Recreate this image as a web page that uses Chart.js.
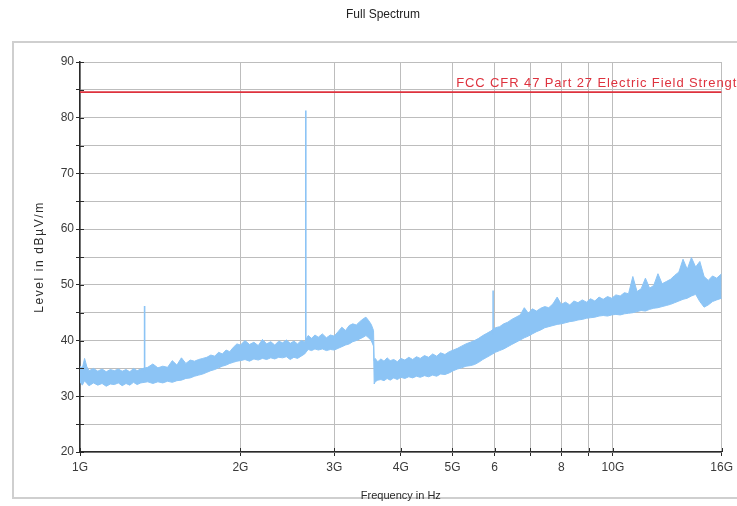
<!DOCTYPE html>
<html><head><meta charset="utf-8">
<script src="https://cdn.jsdelivr.net/npm/chart.js@4.4.0/dist/chart.umd.min.js"></script>
<style>html,body{margin:0;padding:0;background:#fff;overflow:hidden}</style>
</head><body>
<canvas id="c" width="737" height="506"></canvas>
<script>
// ---- data ----
const freqGHz = [
  1.00, 1.01, 1.02, 1.03, 1.04, 1.06, 1.08, 1.10, 1.12, 1.14,
  1.16, 1.18, 1.20, 1.22, 1.24, 1.26, 1.28, 1.30, 1.34, 1.37,
  1.40, 1.43, 1.46, 1.49, 1.52, 1.55, 1.58, 1.61, 1.64, 1.67,
  1.70, 1.73, 1.76, 1.79, 1.82, 1.85, 1.88, 1.91, 1.94, 1.97,
  2.00, 2.04, 2.08, 2.12, 2.16, 2.20, 2.24, 2.28, 2.32, 2.36,
  2.40, 2.44, 2.48, 2.52, 2.56, 2.60, 2.64, 2.68, 2.72, 2.76,
  2.80, 2.85, 2.90, 2.95, 3.00, 3.05, 3.10, 3.15, 3.20, 3.25,
  3.30, 3.35, 3.40, 3.44, 3.48, 3.52, 3.555, 3.565, 3.58, 3.62,
  3.67, 3.72, 3.77, 3.82, 3.88, 3.94, 4.00, 4.07, 4.14, 4.21,
  4.28, 4.35, 4.43, 4.51, 4.59, 4.67, 4.75, 4.84, 4.93, 5.02,
  5.11, 5.20, 5.30, 5.40, 5.50, 5.60, 5.70, 5.80, 5.90, 6.02,
  6.13, 6.24, 6.35, 6.46, 6.58, 6.70, 6.82, 6.94, 7.06, 7.19,
  7.32, 7.45, 7.58, 7.72, 7.86, 8.00, 8.15, 8.30, 8.45, 8.60,
  8.76, 8.92, 9.08, 9.25, 9.42, 9.59, 9.77, 9.95, 10.13, 10.32,
  10.51, 10.70, 10.90, 11.10, 11.30, 11.51, 11.72, 11.93, 12.15, 12.37,
  12.60, 12.83, 13.06, 13.30, 13.54, 13.79, 14.04, 14.30, 14.56, 14.83,
  15.10, 15.38, 15.66, 16.00
];
const upperDb = [
  35.5, 35.0, 36.8, 35.3, 34.6, 35.0, 34.5, 34.9, 34.4, 34.8,
  34.6, 34.9, 34.5, 34.8, 34.4, 35.0, 34.6, 34.9, 35.2, 35.8,
  35.1, 35.4, 35.2, 36.4, 35.6, 36.9, 35.9, 36.5, 36.3, 36.6,
  36.8, 37.0, 37.4, 37.2, 37.9, 37.6, 38.3, 38.0, 38.8, 39.4,
  39.2, 40.0, 39.3, 39.7, 39.1, 40.2, 39.4, 39.8, 39.2, 39.9,
  39.6, 40.1, 39.5, 39.9, 39.4, 40.0, 39.8, 40.9, 40.4, 41.0,
  40.6, 41.2, 40.5, 41.0, 40.8, 41.6, 42.4, 41.8, 42.7, 43.0,
  42.8, 43.4, 43.9, 44.2, 43.6, 42.9, 41.8, 36.4, 36.8, 36.2,
  36.7, 36.3, 36.9, 36.4, 36.6, 36.2, 36.8, 36.5, 37.0, 36.6,
  37.1, 36.8, 37.3, 37.0, 37.6, 37.2, 37.8, 37.5, 38.0, 38.3,
  38.6, 39.0, 39.4, 39.7, 40.0, 40.4, 40.9, 41.3, 41.7, 42.3,
  42.5, 43.0, 43.3, 43.8, 44.2, 44.6, 45.9, 44.9, 45.7, 45.3,
  45.8, 46.1, 45.9, 46.6, 47.8, 46.5, 46.9, 46.4, 47.1, 46.8,
  47.3, 46.9, 47.5, 47.1, 47.8, 47.4, 47.9, 47.6, 48.2, 48.0,
  48.6, 48.4, 51.5, 48.8, 49.3, 51.2, 49.4, 49.9, 52.0, 50.2,
  50.6, 51.0, 51.7, 52.3, 54.6, 52.8, 54.9, 53.2, 54.2, 51.5,
  50.8, 51.6, 51.2, 52.0
];
const lowerDb = [
  32.6, 32.0, 32.8, 32.3, 31.9, 32.4, 32.0, 32.3, 31.8, 32.2,
  32.1, 32.4, 31.9, 32.3, 32.0, 32.5, 32.1, 32.4, 32.6, 32.3,
  32.6, 32.4, 32.7, 32.5, 32.8, 32.9, 33.2, 33.3, 33.6, 33.8,
  34.0, 34.3, 34.6, 34.8, 35.1, 35.4, 35.6, 35.9, 36.1, 36.3,
  36.4, 36.6, 36.3, 36.7, 36.5, 36.8, 36.6, 36.9, 36.7, 37.0,
  36.9, 37.1, 36.6, 37.0, 36.8, 37.2, 37.6, 38.4, 38.2, 38.5,
  38.3, 38.5, 38.2, 38.4, 38.3, 38.6, 38.9, 39.2, 39.4, 39.8,
  40.0, 40.3, 40.6, 40.9, 40.5, 40.0, 39.0, 32.2, 32.6, 32.9,
  33.0, 32.8, 33.2, 32.9, 33.3, 33.0, 33.4, 33.2, 33.5, 33.3,
  33.6, 33.4, 33.7, 33.5, 33.8, 33.6, 34.0, 33.9, 34.2, 34.6,
  34.9, 35.1, 35.4, 35.5, 35.7, 36.1, 36.6, 37.0, 37.4, 37.9,
  38.2, 38.5, 38.9, 39.3, 39.7, 40.1, 40.5, 40.8, 41.2, 41.6,
  41.9, 42.3, 42.5, 42.7, 42.9, 43.0, 43.2, 43.4, 43.5, 43.7,
  43.8, 44.0, 44.1, 44.2, 44.4, 44.5, 44.4, 44.6, 44.7, 44.6,
  44.8, 44.9, 45.0, 45.2, 45.4, 45.3, 45.6, 45.8, 45.9, 46.1,
  46.3, 46.5, 46.8, 47.1, 47.4, 47.6, 48.0, 48.3, 47.0, 46.0,
  46.4, 47.0, 47.3, 47.6
];
const spikeFreqGHz = [1.322, 2.653, 5.96];
const spikeTopDb   = [46.2, 81.3, 49.0];
const spikeBaseDb  = [34.5, 39.5, 41.0];
const limitDb = 84.6;
const limitLabel = 'FCC CFR 47 Part 27 Electric Field Strength';
const limitLabelStartGHz = 5.08;
const xTickValues = [1, 2, 3, 4, 5, 6, 7, 8, 9, 10, 16];
const xTickLabels = ['1G', '2G', '3G', '4G', '5G', '6', '', '8', '', '10G', '16G'];
const yMin = 20, yMax = 90, yStep = 5, yLabelEvery = 10;
const yTitle = 'Level in dBµV/m';

// ---- styling ----
const BLUE = 'rgb(140,196,245)';
const RED = 'rgb(222,50,62)';
const GRID = '#bdbdbd';
const AXIS = '#2a2a2a';
const FONT = 'Arial, "Liberation Sans", sans-serif';

const pts = (xs, ys) => xs.map((x, i) => ({x: x, y: ys[i]}));
const datasets = [
  {data: [{x: 1, y: limitDb}, {x: 16, y: limitDb}], borderColor: RED, borderWidth: 1.6, pointRadius: 0, fill: false},
  ...spikeFreqGHz.map((f, i) => ({data: [{x: f, y: spikeBaseDb[i]}, {x: f, y: spikeTopDb[i]}], borderColor: BLUE, borderWidth: 1.6, pointRadius: 0, fill: false})),
  {data: pts(freqGHz, upperDb), borderColor: BLUE, borderWidth: 1, pointRadius: 0, fill: false},
  {data: pts(freqGHz, lowerDb), borderColor: BLUE, borderWidth: 1, pointRadius: 0, fill: '-1', backgroundColor: BLUE}
];

const decor = {
  id: 'decor',
  beforeDraw(chart) {
    const ctx = chart.ctx;
    ctx.save();
    ctx.fillStyle = '#fff';
    ctx.fillRect(0, 0, chart.width, chart.height);
    ctx.strokeStyle = '#cfcfcf';
    ctx.lineWidth = 2;
    ctx.beginPath();
    ctx.moveTo(737, 42); ctx.lineTo(13, 42); ctx.lineTo(13, 498); ctx.lineTo(737, 498);
    ctx.stroke();
    ctx.fillStyle = '#222';
    ctx.font = '12px ' + FONT;
    ctx.textAlign = 'center';
    ctx.textBaseline = 'middle';
    ctx.fillText('Full Spectrum', 383, 15);
    ctx.restore();
  },
  afterDraw(chart) {
    const ctx = chart.ctx, xs = chart.scales.x, ys = chart.scales.y, a = chart.chartArea;
    ctx.save();
    ctx.strokeStyle = AXIS;
    ctx.lineWidth = 1;
    ctx.beginPath();
    ys.ticks.forEach(t => { const y = Math.round(ys.getPixelForValue(t.value)) + 0.5; ctx.moveTo(a.left, y); ctx.lineTo(a.left + 4, y); });
    xs.ticks.forEach(t => { const x = Math.round(xs.getPixelForValue(t.value)) + 0.5; ctx.moveTo(x, a.bottom); ctx.lineTo(x, a.bottom - 4); });
    ctx.stroke();
    // limit label
    ctx.fillStyle = RED;
    ctx.font = '13px ' + FONT;
    ctx.letterSpacing = '0.9px';
    ctx.textAlign = 'left';
    ctx.textBaseline = 'bottom';
    ctx.fillText(limitLabel, xs.getPixelForValue(limitLabelStartGHz), ys.getPixelForValue(limitDb) - 2);
    // y axis title
    ctx.save();
    ctx.translate(40, (a.top + a.bottom) / 2);
    ctx.rotate(-Math.PI / 2);
    ctx.fillStyle = '#2a2a2a';
    ctx.font = '12px ' + FONT;
    ctx.letterSpacing = '1.6px';
    ctx.textAlign = 'center';
    ctx.textBaseline = 'middle';
    ctx.fillText(yTitle, 0, 0);
    ctx.restore();
    ctx.restore();
  }
};

new Chart(document.getElementById('c'), {
  type: 'line',
  data: {datasets: datasets},
  plugins: [decor],
  options: {
    responsive: false,
    animation: false,
    devicePixelRatio: 1,
    layout: {padding: {top: 62, right: 15, left: 0, bottom: 0}},
    plugins: {legend: {display: false}, tooltip: {enabled: false}, title: {display: false}},
    elements: {line: {tension: 0}},
    scales: {
      x: {
        type: 'logarithmic', min: 1, max: 16,
        afterBuildTicks: s => { s.ticks = xTickValues.map(v => ({value: v})); },
        afterFit: s => { s.height = 54; },
        ticks: {autoSkip: false, maxRotation: 0, padding: 4, color: '#3a3a3a', font: {family: FONT, size: 12},
          callback: (v, i) => xTickLabels[i]},
        grid: {color: GRID, lineWidth: 1, tickLength: 4, tickColor: AXIS},
        border: {color: AXIS, width: 1.5},
        title: {display: true, text: 'Frequency in Hz', color: '#2a2a2a', font: {family: FONT, size: 11}, padding: {top: 0, bottom: 3}}
      },
      y: {
        type: 'linear', min: yMin, max: yMax,
        afterFit: s => { s.width = 80; },
        ticks: {stepSize: yStep, padding: 2, color: '#3a3a3a', font: {family: FONT, size: 12},
          callback: v => (v % yLabelEvery === 0 ? String(v) : '')},
        grid: {color: GRID, lineWidth: 1, tickLength: 4, tickColor: AXIS},
        border: {color: AXIS, width: 1.5},
        title: {display: false}
      }
    }
  }
});
</script>
</body></html>
